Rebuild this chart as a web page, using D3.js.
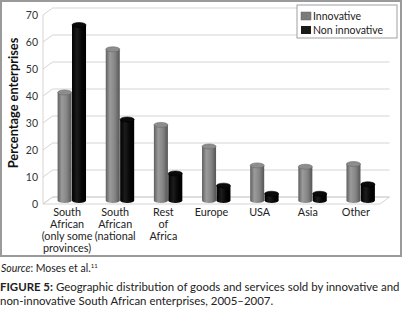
<!DOCTYPE html>
<html>
<head>
<meta charset="utf-8">
<script src="https://cdn.jsdelivr.net/npm/d3@7"></script>
<style>
  body { margin: 0; background: #fff; }
  text { font-family: Lato, "Liberation Sans", sans-serif; }
</style>
</head>
<body>
<div id="graph"></div>
<script>
// chart values
var categories = ['South African (only some provinces)', 'South African (national', 'Rest of Africa', 'Europe', 'USA', 'Asia', 'Other'];
var categoryLines = [['South', 'African', '(only some', 'provinces)'], ['South', 'African', '(national'], ['Rest', 'of', 'Africa'], ['Europe'], ['USA'], ['Asia'], ['Other']];
var series = ['Innovative', 'Non innovative'];
var innovative = [40, 56, 28, 20, 13, 12.5, 13.5];
var nonInnovative = [65, 30, 10, 5.5, 2.5, 2.5, 6];
var yTicks = [0, 10, 20, 30, 40, 50, 60, 70];

var width = 403,
    height = 309;

var depthX = 9.5,
    depthY = -7;

var grid = '#d4d4d4';

var svg = d3.select('#graph')
    .append('svg')
        .attr('width', width)
        .attr('height', height);

var defs = svg.append('defs');

var grayGrad = defs.append('linearGradient').attr('id', 'grayCyl');
grayGrad.append('stop').attr('offset', '0%').attr('stop-color', '#5f5f5f');
grayGrad.append('stop').attr('offset', '30%').attr('stop-color', '#9b9b9b');
grayGrad.append('stop').attr('offset', '65%').attr('stop-color', '#858585');
grayGrad.append('stop').attr('offset', '100%').attr('stop-color', '#555');

var blackGrad = defs.append('linearGradient').attr('id', 'blackCyl');
blackGrad.append('stop').attr('offset', '0%').attr('stop-color', '#000');
blackGrad.append('stop').attr('offset', '35%').attr('stop-color', '#1c1c1c');
blackGrad.append('stop').attr('offset', '70%').attr('stop-color', '#050505');
blackGrad.append('stop').attr('offset', '100%').attr('stop-color', '#000');

// outer frame
svg.append('rect')
    .attr('x', 1)
    .attr('y', 1)
    .attr('width', 400)
    .attr('height', 255)
    .style('fill', '#fff')
    .style('stroke', '#9a9a9a')
    .style('stroke-width', 2);

// front scales
var x = d3.scaleBand()
    .domain(categories)
    .range([43, 380]);

var s = d3.scaleBand()
    .domain(series)
    .range([0, x.bandwidth()])
    .paddingOuter(0.67);

var y = d3.scaleLinear()
    .domain([0, 70])
    .range([204, 15]);

var x0 = x.range()[0],
    x1 = x.range()[1];

// floor
svg.append('polygon')
    .attr('points', [[x0, y(0)], [x1, y(0)], [x1 + depthX, y(0) + depthY], [x0 + depthX, y(0) + depthY]].join(' '))
    .style('fill', '#fff')
    .style('stroke', grid);

// gridlines on side wall and back wall
yTicks.forEach(function(v) {
    svg.append('polyline')
        .attr('points', [[x0, y(v)], [x0 + depthX, y(v) + depthY], [x1 + depthX, y(v) + depthY]].join(' '))
        .style('fill', 'none')
        .style('stroke', grid);
});
svg.append('line')
    .attr('x1', x0).attr('x2', x0)
    .attr('y1', y(70)).attr('y2', y(0))
    .style('stroke', grid);

// y axis labels
var yAxis = svg.append('g')
    .attr('transform', 'translate(' + (x0 - 3) + ',0)')
    .call(d3.axisLeft(y).tickValues(yTicks).tickSize(0).tickPadding(2));
yAxis.select('.domain').remove();
yAxis.selectAll('text')
    .style('font-family', 'Lato, sans-serif')
    .style('font-size', '10.5px')
    .style('fill', '#333');

// y label
svg.append('text')
    .attr('transform', 'translate(13,' + 103 + ') rotate(-90)')
    .attr('text-anchor', 'middle')
    .attr('dominant-baseline', 'central')
    .style('font-size', '12.8px')
    .style('font-weight', 'bold')
    .style('fill', '#111')
    .text('Percentage enterprises');

// cylinders
var rx = s.bandwidth() / 2 - 0.2,
    ry = 2.5;

function drawCylinder(cat, name, value, fill, topFill) {
    var cx = x(cat) + s(name) + s.bandwidth() / 2 + depthX / 2;
    var yb = y(0) + depthY / 2;
    var yt = y(value) + depthY / 2;
    var g = svg.append('g');
    g.append('ellipse')
        .attr('cx', cx).attr('cy', yb)
        .attr('rx', rx).attr('ry', ry)
        .style('fill', fill);
    g.append('rect')
        .attr('x', cx - rx).attr('y', yt)
        .attr('width', rx * 2).attr('height', yb - yt)
        .style('fill', fill);
    g.append('ellipse')
        .attr('cx', cx).attr('cy', yt)
        .attr('rx', rx).attr('ry', ry)
        .style('fill', topFill)
        .style('stroke', name == 'Innovative' ? '#6a6a6a' : '#000')
        .style('stroke-width', 0.6);
}

categories.forEach(function(c, i) {
    drawCylinder(c, 'Innovative', innovative[i], 'url(#grayCyl)', '#8d8d8d');
    drawCylinder(c, 'Non innovative', nonInnovative[i], 'url(#blackCyl)', '#0a0a0a');
});

// category labels
var xAxis = svg.append('g')
    .attr('transform', 'translate(0,' + (y(0) + 2) + ')')
    .call(d3.axisBottom(x).tickSize(0).tickPadding(0));
xAxis.select('.domain').remove();
xAxis.selectAll('text').each(function(d) {
    var lines = categoryLines[categories.indexOf(d)];
    var t = d3.select(this)
        .text(null)
        .attr('y', 0)
        .attr('dy', null)
        .style('font-family', 'Lato, sans-serif')
        .style('font-size', '10.8px')
        .style('fill', '#222');
    lines.forEach(function(l, k) {
        t.append('tspan')
            .attr('x', 0)
            .attr('y', 10 + k * 12)
            .text(l);
    });
});

// legend
var legend = svg.append('g');
legend.append('rect')
    .attr('x', 297).attr('y', 5)
    .attr('width', 100).attr('height', 33)
    .style('fill', '#fff')
    .style('stroke', '#a0a0a0');
legend.append('rect')
    .attr('x', 301).attr('y', 12)
    .attr('width', 10).attr('height', 8)
    .style('fill', '#7a7a7a')
    .style('stroke', '#666')
    .style('stroke-width', 0.5);
legend.append('rect')
    .attr('x', 301).attr('y', 26)
    .attr('width', 10).attr('height', 8)
    .style('fill', '#1a1a1a');
legend.append('text')
    .attr('x', 313).attr('y', 19.5)
    .style('font-size', '10.5px')
    .style('fill', '#222')
    .text(series[0]);
legend.append('text')
    .attr('x', 313).attr('y', 33.5)
    .style('font-size', '10.5px')
    .style('fill', '#222')
    .text(series[1]);

// captions below the frame
var source = svg.append('text')
    .attr('x', 1).attr('y', 272)
    .style('font-size', '10.5px')
    .style('fill', '#222');
source.append('tspan').style('font-style', 'italic').text('Source');
source.append('tspan').text(': Moses et al.');
source.append('tspan').attr('dy', -4).style('font-size', '6px').text('11');

var capSize = 10.3;
var cap1 = svg.append('text')
    .attr('x', 0).attr('y', 291)
    .style('font-size', capSize + 'px')
    .style('fill', '#222');
cap1.append('tspan').style('font-weight', 'bold').text('FIGURE 5:');
cap1.append('tspan').text(' Geographic distribution of goods and services sold by innovative and');

// widen the caption to the page width like the original
capSize = capSize * 400 / cap1.node().getComputedTextLength();
cap1.style('font-size', capSize + 'px');

svg.append('text')
    .attr('x', 0).attr('y', 305)
    .style('font-size', capSize + 'px')
    .style('fill', '#222')
    .text('non-innovative South African enterprises, 2005\u20132007.');
</script>
</body>
</html>
